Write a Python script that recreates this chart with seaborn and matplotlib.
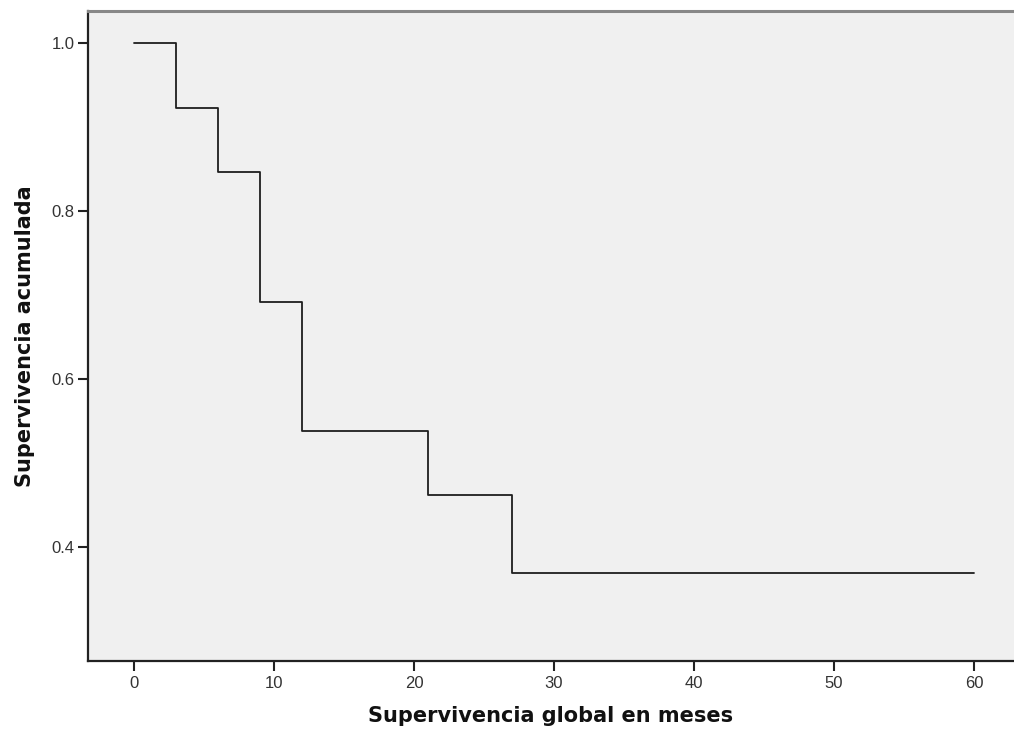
import matplotlib
matplotlib.use("Agg")
import matplotlib.pyplot as plt
import seaborn as sns
import pandas as pd

# === DATA (Kaplan-Meier steps) ===
meses = [0, 3, 6, 9, 12, 21, 27, 60]
supervivencia = [1.0, 0.923, 0.846, 0.692, 0.538, 0.462, 0.369, 0.369]
x_ticks = [0, 10, 20, 30, 40, 50, 60]
y_ticks = [0.4, 0.6, 0.8, 1.0]

df = pd.DataFrame({"meses": meses, "supervivencia": supervivencia})

sns.set_theme(style="white")
plt.rcParams["font.family"] = ["Liberation Sans", "DejaVu Sans"]

fig = plt.figure(figsize=(10.14, 7.40), dpi=100)
ax = fig.add_axes([88 / 1014, 79 / 740, (1014 - 88) / 1014, 650 / 740])
ax.set_facecolor("#f0f0f0")

sns.lineplot(data=df, x="meses", y="supervivencia", drawstyle="steps-post",
             color="#1e1e1e", linewidth=1.3, ax=ax)

ax.set_xlim(-3.29, 62.86)
ax.set_ylim(0.264, 1.038)
ax.set_xticks(x_ticks)
ax.set_yticks(y_ticks)
ax.set_xticklabels([str(t) for t in x_ticks])
ax.set_yticklabels([f"{t:.1f}" for t in y_ticks])

ax.tick_params(axis="both", direction="out", length=7.5, width=1.5, color="#222222",
               labelsize=12, labelcolor="#333333", bottom=True, left=True)
ax.tick_params(axis="x", pad=3)
ax.tick_params(axis="y", pad=2)

for side in ["left", "bottom"]:
    ax.spines[side].set_color("#222222")
    ax.spines[side].set_linewidth(1.6)
ax.spines["right"].set_visible(False)
ax.spines["top"].set_color("#888888")
ax.spines["top"].set_linewidth(2.2)

label_font = {"family": "DejaVu Sans", "size": 15, "weight": "bold", "color": "#111111"}
ax.set_xlabel("Supervivencia global en meses", fontdict=label_font, labelpad=11)
ax.set_ylabel("Supervivencia acumulada", fontdict=label_font, labelpad=12)

fig.savefig("out.png", dpi=100)
